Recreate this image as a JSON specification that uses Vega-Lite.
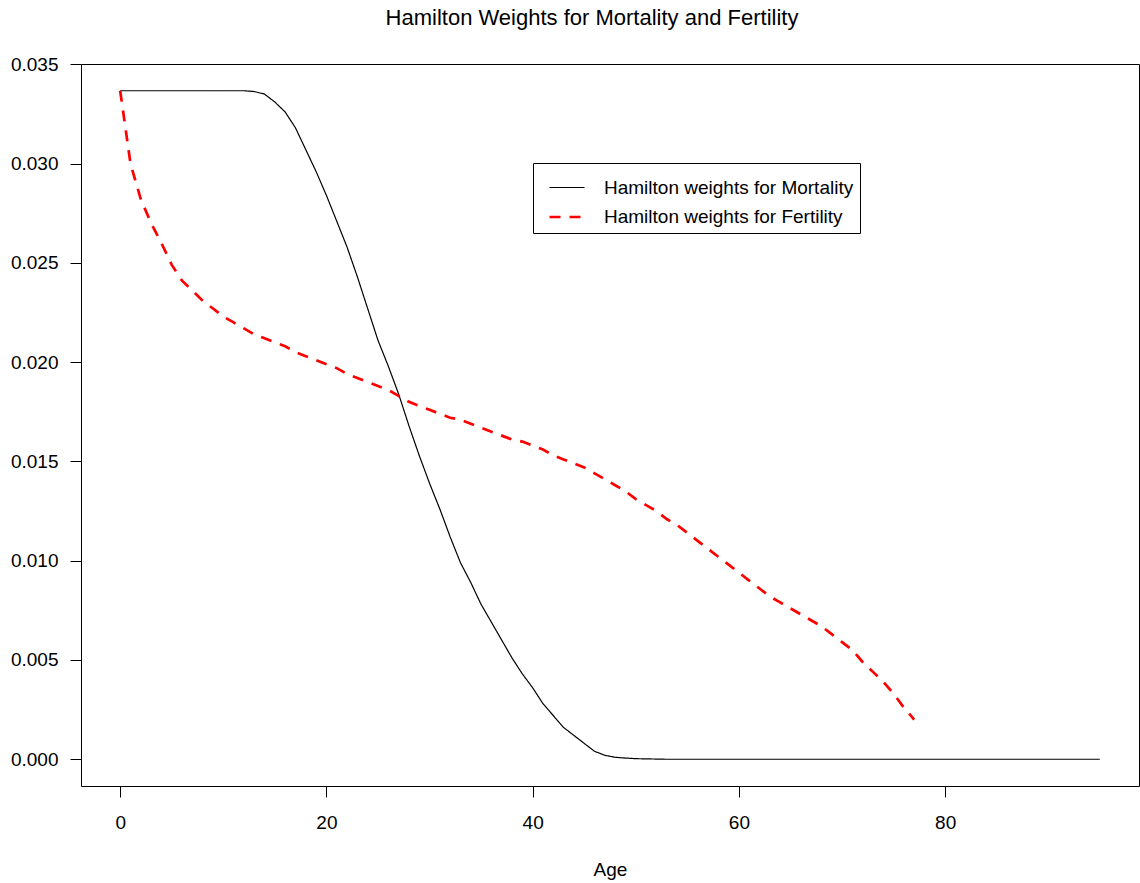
{
  "$schema": "https://vega.github.io/schema/vega-lite/v6.json",
  "autosize": {"type": "none"},
  "padding": {"left": 81, "top": 64, "right": 1, "bottom": 97},
  "width": 1058,
  "height": 722,
  "background": "white",
  "title": {
    "text": "Hamilton Weights for Mortality and Fertility",
    "font": "Liberation Sans",
    "fontSize": 22,
    "fontWeight": "normal",
    "color": "black",
    "anchor": "middle",
    "frame": "group",
    "offset": 25,
    "dx": -18
  },
  "config": {
    "view": {"stroke": "black", "strokeWidth": 1},
    "axis": {
      "grid": false,
      "domain": false,
      "tickColor": "black",
      "tickSize": 11,
      "tickWidth": 1,
      "labelFont": "Liberation Sans",
      "labelFontSize": 19,
      "labelColor": "black",
      "titleFont": "Liberation Sans",
      "titleFontSize": 19,
      "titleFontWeight": "normal",
      "titleColor": "black"
    }
  },
  "data": {
    "values": [
      {"age": 0, "mortality": 0.03367, "fertility": 0.03367},
      {"age": 1, "mortality": 0.03367, "fertility": 0.0300},
      {"age": 2, "mortality": 0.03367, "fertility": 0.0282},
      {"age": 3, "mortality": 0.03367, "fertility": 0.0270},
      {"age": 4, "mortality": 0.03367, "fertility": 0.0260},
      {"age": 5, "mortality": 0.03367, "fertility": 0.0249},
      {"age": 6, "mortality": 0.03367, "fertility": 0.0241},
      {"age": 7, "mortality": 0.03367, "fertility": 0.0236},
      {"age": 8, "mortality": 0.03367, "fertility": 0.0231},
      {"age": 9, "mortality": 0.03367, "fertility": 0.0227},
      {"age": 10, "mortality": 0.03367, "fertility": 0.0223},
      {"age": 11, "mortality": 0.03367, "fertility": 0.0220},
      {"age": 12, "mortality": 0.03367, "fertility": 0.0217},
      {"age": 13, "mortality": 0.03363, "fertility": 0.0214},
      {"age": 14, "mortality": 0.0335, "fertility": 0.0212},
      {"age": 15, "mortality": 0.0331, "fertility": 0.0210},
      {"age": 16, "mortality": 0.0326, "fertility": 0.0208},
      {"age": 17, "mortality": 0.0318, "fertility": 0.0205},
      {"age": 18, "mortality": 0.0307, "fertility": 0.0203},
      {"age": 19, "mortality": 0.0296, "fertility": 0.0201},
      {"age": 20, "mortality": 0.0284, "fertility": 0.0199},
      {"age": 21, "mortality": 0.0271, "fertility": 0.0197},
      {"age": 22, "mortality": 0.0258, "fertility": 0.0194},
      {"age": 23, "mortality": 0.0243, "fertility": 0.0192},
      {"age": 24, "mortality": 0.0227, "fertility": 0.0190},
      {"age": 25, "mortality": 0.0211, "fertility": 0.0188},
      {"age": 26, "mortality": 0.0198, "fertility": 0.0186},
      {"age": 27, "mortality": 0.0184, "fertility": 0.0183},
      {"age": 28, "mortality": 0.0168, "fertility": 0.0180},
      {"age": 29, "mortality": 0.0153, "fertility": 0.0178},
      {"age": 30, "mortality": 0.0139, "fertility": 0.0176},
      {"age": 31, "mortality": 0.0126, "fertility": 0.0174},
      {"age": 32, "mortality": 0.0112, "fertility": 0.0172},
      {"age": 33, "mortality": 0.0099, "fertility": 0.0171},
      {"age": 34, "mortality": 0.0089, "fertility": 0.0169},
      {"age": 35, "mortality": 0.0078, "fertility": 0.0167},
      {"age": 36, "mortality": 0.0069, "fertility": 0.0165},
      {"age": 37, "mortality": 0.0060, "fertility": 0.0163},
      {"age": 38, "mortality": 0.0051, "fertility": 0.0161},
      {"age": 39, "mortality": 0.0043, "fertility": 0.0160},
      {"age": 40, "mortality": 0.0036, "fertility": 0.0158},
      {"age": 41, "mortality": 0.0028, "fertility": 0.0156},
      {"age": 42, "mortality": 0.0022, "fertility": 0.0153},
      {"age": 43, "mortality": 0.0016, "fertility": 0.0151},
      {"age": 44, "mortality": 0.0012, "fertility": 0.0149},
      {"age": 45, "mortality": 0.0008, "fertility": 0.0147},
      {"age": 46, "mortality": 0.0004, "fertility": 0.0144},
      {"age": 47, "mortality": 0.0002, "fertility": 0.0141},
      {"age": 48, "mortality": 0.0001, "fertility": 0.0138},
      {"age": 49, "mortality": 0.00006, "fertility": 0.0135},
      {"age": 50, "mortality": 0.00003, "fertility": 0.0131},
      {"age": 51, "mortality": 0.00002, "fertility": 0.0128},
      {"age": 52, "mortality": 0.00001, "fertility": 0.0125},
      {"age": 53, "mortality": 0, "fertility": 0.0121},
      {"age": 54, "mortality": 0, "fertility": 0.0118},
      {"age": 55, "mortality": 0, "fertility": 0.0114},
      {"age": 56, "mortality": 0, "fertility": 0.0110},
      {"age": 57, "mortality": 0, "fertility": 0.0106},
      {"age": 58, "mortality": 0, "fertility": 0.0102},
      {"age": 59, "mortality": 0, "fertility": 0.0098},
      {"age": 60, "mortality": 0, "fertility": 0.0094},
      {"age": 61, "mortality": 0, "fertility": 0.0090},
      {"age": 62, "mortality": 0, "fertility": 0.0086},
      {"age": 63, "mortality": 0, "fertility": 0.0082},
      {"age": 64, "mortality": 0, "fertility": 0.0079},
      {"age": 65, "mortality": 0, "fertility": 0.0076},
      {"age": 66, "mortality": 0, "fertility": 0.0073},
      {"age": 67, "mortality": 0, "fertility": 0.0070},
      {"age": 68, "mortality": 0, "fertility": 0.0067},
      {"age": 69, "mortality": 0, "fertility": 0.0063},
      {"age": 70, "mortality": 0, "fertility": 0.0059},
      {"age": 71, "mortality": 0, "fertility": 0.0055},
      {"age": 72, "mortality": 0, "fertility": 0.0049},
      {"age": 73, "mortality": 0, "fertility": 0.0044},
      {"age": 74, "mortality": 0, "fertility": 0.0039},
      {"age": 75, "mortality": 0, "fertility": 0.0033},
      {"age": 76, "mortality": 0, "fertility": 0.0026},
      {"age": 77, "mortality": 0, "fertility": 0.0020},
      {"age": 78, "mortality": 0, "fertility": null},
      {"age": 79, "mortality": 0, "fertility": null},
      {"age": 80, "mortality": 0, "fertility": null},
      {"age": 81, "mortality": 0, "fertility": null},
      {"age": 82, "mortality": 0, "fertility": null},
      {"age": 83, "mortality": 0, "fertility": null},
      {"age": 84, "mortality": 0, "fertility": null},
      {"age": 85, "mortality": 0, "fertility": null},
      {"age": 86, "mortality": 0, "fertility": null},
      {"age": 87, "mortality": 0, "fertility": null},
      {"age": 88, "mortality": 0, "fertility": null},
      {"age": 89, "mortality": 0, "fertility": null},
      {"age": 90, "mortality": 0, "fertility": null},
      {"age": 91, "mortality": 0, "fertility": null},
      {"age": 92, "mortality": 0, "fertility": null},
      {"age": 93, "mortality": 0, "fertility": null},
      {"age": 94, "mortality": 0, "fertility": null},
      {"age": 95, "mortality": 0, "fertility": null}
    ]
  },
  "transform": [
    {"fold": ["mortality", "fertility"], "as": ["series", "weight"]},
    {"filter": "datum.weight != null"}
  ],
  "mark": {"type": "line", "clip": true},
  "encoding": {
    "x": {
      "field": "age",
      "type": "quantitative",
      "scale": {"domain": [-3.8, 98.8], "nice": false, "zero": false},
      "axis": {"values": [0, 20, 40, 60, 80], "title": "Age", "labelPadding": 16, "titlePadding": 28}
    },
    "y": {
      "field": "weight",
      "type": "quantitative",
      "scale": {"domain": [-0.0013468, 0.0350168], "nice": false, "zero": false},
      "axis": {"values": [0, 0.005, 0.01, 0.015, 0.02, 0.025, 0.03, 0.035], "format": ".3f", "title": null, "labelPadding": 12}
    },
    "color": {
      "field": "series",
      "type": "nominal",
      "scale": {"domain": ["mortality", "fertility"], "range": ["black", "#ff0000"]},
      "legend": {
        "title": null,
        "orient": "none",
        "legendX": 452,
        "legendY": 99,
        "padding": 6,
        "strokeColor": "black",
        "fillColor": "white",
        "symbolType": "stroke",
        "symbolSize": 1225,
        "symbolOffset": 9,
        "labelFont": "Liberation Sans",
        "labelFontSize": 19,
        "labelColor": "black",
        "labelOffset": 18,
        "labelLimit": 400,
        "rowPadding": -5,
        "labelExpr": "datum.label == 'mortality' ? 'Hamilton weights for Mortality' : 'Hamilton weights for Fertility'"
      }
    },
    "strokeDash": {
      "field": "series",
      "type": "nominal",
      "scale": {"domain": ["mortality", "fertility"], "range": [[1, 0], [11, 9]]},
      "legend": null
    },
    "strokeWidth": {
      "field": "series",
      "type": "nominal",
      "scale": {"domain": ["mortality", "fertility"], "range": [1.2, 2.7]},
      "legend": null
    }
  }
}
